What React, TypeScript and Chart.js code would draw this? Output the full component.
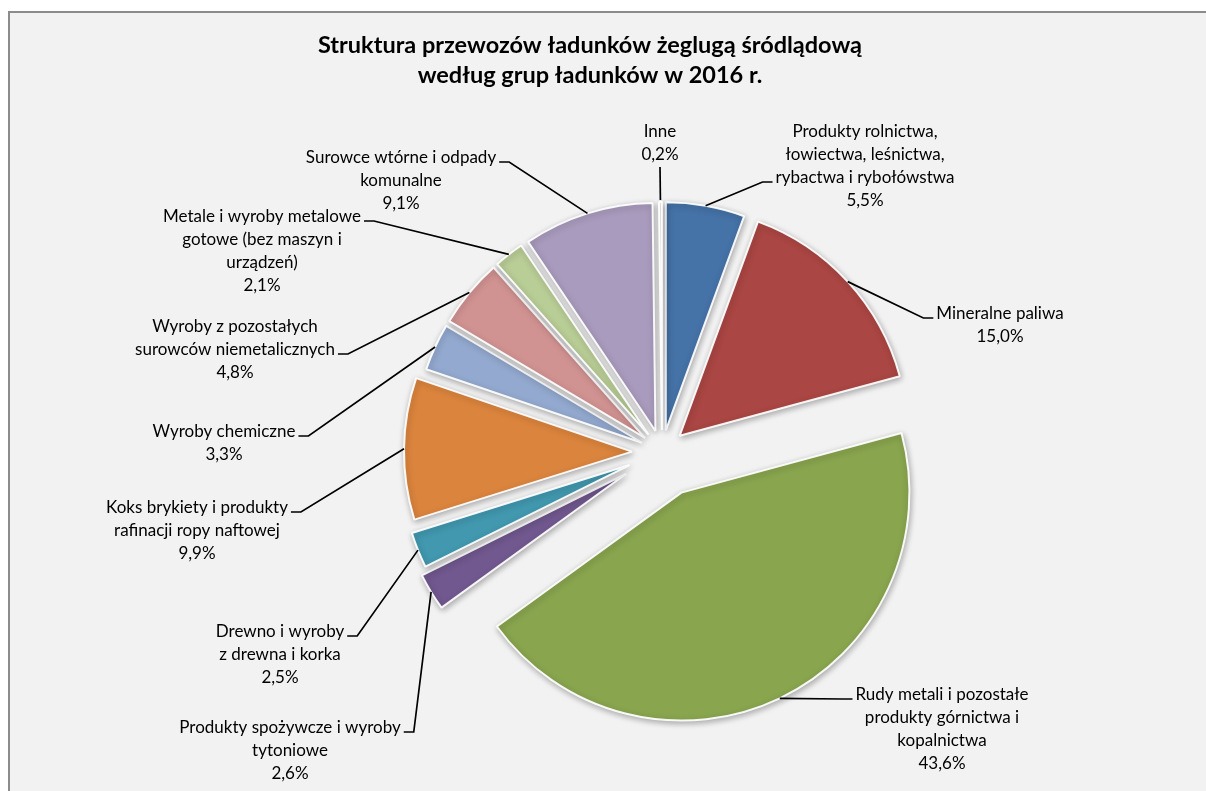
import React, { useEffect, useRef } from "react";
import { Chart, registerables } from "chart.js";

Chart.register(...registerables);

const titleLines = [
  "Struktura przewozów ładunków żeglugą śródlądową",
  "według grup ładunków w 2016 r.",
];

const categories = [
  "Produkty rolnictwa,\nłowiectwa, leśnictwa,\nrybactwa i rybołówstwa",
  "Mineralne paliwa",
  "Rudy metali i pozostałe\nprodukty górnictwa i\nkopalnictwa",
  "Produkty spożywcze i wyroby\ntytoniowe",
  "Drewno i wyroby\nz drewna i korka",
  "Koks brykiety i produkty\nrafinacji ropy naftowej",
  "Wyroby chemiczne",
  "Wyroby z pozostałych\nsurowców niemetalicznych",
  "Metale i wyroby metalowe\ngotowe (bez maszyn i\nurządzeń)",
  "Surowce wtórne i odpady\nkomunalne",
  "Inne",
];

const values = [5.5, 15.0, 43.6, 2.6, 2.5, 9.9, 3.3, 4.8, 2.1, 9.1, 0.2];

const colors = [
  "#4572A7",
  "#AA4643",
  "#89A54E",
  "#71588F",
  "#4198AF",
  "#DB843D",
  "#93A9CF",
  "#D19392",
  "#B9CD96",
  "#A99BBD",
  "#EDEDED",
];

// layout / style (not data)
const explodePx = [22, 24, 45, 42, 35, 30, 22, 22, 22, 22, 22];
// label block: center x, first line middle y, relative to pie center
const labelOffsets: [number, number][] = [
  [203, -320],
  [338, -138],
  [280, 243],
  [-372, 276],
  [-382, 180],
  [-465, 56],
  [-438, -20],
  [-427, -125],
  [-400, -235],
  [-261, -294],
  [-2, -320],
];
// side where the leader attaches and which line
const labelAttach: [string, number][] = [
  ["left", 2],
  ["left", 0],
  ["left", 0],
  ["right", 0],
  ["right", 0],
  ["right", 0],
  ["right", 0],
  ["right", 1],
  ["right", 0],
  ["right", 0],
  ["below", 1],
];

const FONT = "Lato, 'Open Sans', sans-serif";
const LINE_H = 23;

function fmt(v: number) {
  return v.toFixed(1).replace(".", ",") + "%";
}

export default function App() {
  const ref = useRef<HTMLCanvasElement>(null);

  useEffect(() => {
    const canvas = ref.current!;
    const decor = {
      id: "pieDecor",
      afterDatasetsUpdate(chart: any) {
        const meta = chart.getDatasetMeta(0);
        meta.data.forEach((arc: any, i: number) => {
          const mid = (arc.startAngle + arc.endAngle) / 2;
          arc.x += Math.cos(mid) * explodePx[i];
          arc.y += Math.sin(mid) * explodePx[i];
        });
      },
      beforeDatasetsDraw(chart: any) {
        const ctx = chart.ctx;
        ctx.save();
        ctx.shadowColor = "rgba(0,0,0,0.3)";
        ctx.shadowBlur = 6;
        ctx.shadowOffsetX = 1;
        ctx.shadowOffsetY = 2;
      },
      afterDatasetsDraw(chart: any) {
        const ctx = chart.ctx;
        ctx.restore();
        const area = chart.chartArea;
        const cx = (area.left + area.right) / 2;
        const cy = (area.top + area.bottom) / 2;
        const meta = chart.getDatasetMeta(0);
        ctx.save();
        ctx.font = `17px ${FONT}`;
        ctx.fillStyle = "#000";
        ctx.strokeStyle = "#000";
        ctx.lineWidth = 1.7;
        ctx.textAlign = "center";
        ctx.textBaseline = "middle";
        meta.data.forEach((arc: any, i: number) => {
          const mid = (arc.startAngle + arc.endAngle) / 2;
          const px = arc.x + Math.cos(mid) * arc.outerRadius;
          const py = arc.y + Math.sin(mid) * arc.outerRadius;
          const lines = categories[i].split("\n").concat([fmt(values[i])]);
          const lx = cx + labelOffsets[i][0];
          const ly = cy + labelOffsets[i][1];
          lines.forEach((t, k) => ctx.fillText(t, lx, ly + k * LINE_H));
          const [side, li] = labelAttach[i];
          ctx.beginPath();
          if (side === "below") {
            const by = ly + li * LINE_H + 12;
            ctx.moveTo(lx, by);
            ctx.lineTo(px, py - 2);
          } else {
            const w = ctx.measureText(lines[li]).width;
            const ty = ly + li * LINE_H + 4;
            const dir = side === "right" ? 1 : -1;
            const x0 = lx + dir * (w / 2 + 3);
            const x1 = x0 + dir * 10;
            ctx.moveTo(x0, ty);
            ctx.lineTo(x1, ty);
            ctx.lineTo(px, py);
          }
          ctx.stroke();
        });
        ctx.restore();
      },
      afterDraw(chart: any) {
        const ctx = chart.ctx;
        ctx.save();
        ctx.font = `bold 23.5px ${FONT}`;
        ctx.fillStyle = "#000";
        ctx.textAlign = "center";
        ctx.textBaseline = "middle";
        ctx.fillText(titleLines[0], 580, 32);
        ctx.fillText(titleLines[1], 580, 62);
        ctx.restore();
      },
    };

    const chart = new Chart(canvas, {
      type: "pie",
      data: {
        labels: categories.map((c) => c.replace(/\n/g, " ")),
        datasets: [
          {
            data: values,
            backgroundColor: colors,
            borderColor: "rgba(255,255,255,0.92)",
            borderWidth: 2,
            radius: 228,
          } as any,
        ],
      },
      options: {
        responsive: false,
        animation: false,
        layout: { padding: { left: 150, right: 42, top: 130, bottom: 30 } },
        plugins: {
          legend: { display: false },
          tooltip: { enabled: false },
          title: { display: false },
        },
      },
      plugins: [decor],
    });
    return () => chart.destroy();
  }, []);

  return (
    <div
      style={{
        position: "fixed",
        left: 8,
        top: 11,
        width: 1198,
        height: 780,
        boxSizing: "border-box",
        borderTop: "2px solid #8c8c8c",
        borderLeft: "2px solid #8c8c8c",
        background: "#f2f2f2",
      }}
    >
      <canvas
        ref={ref}
        width={1196}
        height={778}
        style={{ display: "block", width: 1196, height: 778 }}
      />
    </div>
  );
}
